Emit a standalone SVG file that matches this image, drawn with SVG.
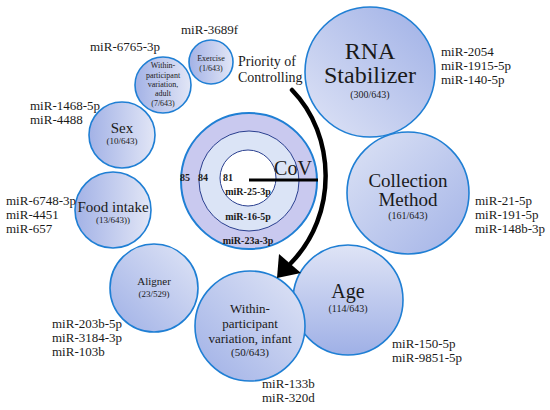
<svg xmlns="http://www.w3.org/2000/svg" width="550" height="410" viewBox="0 0 550 410" font-family="'Liberation Serif', 'DejaVu Serif', serif">
<defs>
<linearGradient id="gLR" x1="0" y1="0" x2="1" y2="0"><stop offset="0" stop-color="#a3b2e6"/><stop offset="1" stop-color="#e2e6f6"/></linearGradient>
<linearGradient id="gTB" x1="0" y1="0" x2="0" y2="1"><stop offset="0" stop-color="#dfe4f6"/><stop offset="1" stop-color="#9fb0e6"/></linearGradient>
<linearGradient id="gTRBL" x1="1" y1="0" x2="0" y2="1"><stop offset="0" stop-color="#e0e5f6"/><stop offset="1" stop-color="#9fb0e6"/></linearGradient>
<linearGradient id="gTLBR" x1="0" y1="0" x2="1" y2="1"><stop offset="0" stop-color="#dde3f5"/><stop offset="1" stop-color="#a3b3e7"/></linearGradient>
<linearGradient id="gBLTR" x1="0" y1="1" x2="1" y2="0"><stop offset="0" stop-color="#dfe4f6"/><stop offset="1" stop-color="#9fb0e6"/></linearGradient>
</defs>
<style>
text{font-family:'Liberation Serif','DejaVu Serif',serif;fill:#1a1a1a}
.c{stroke:#1f7fd4;stroke-width:1.6}
.m{font-size:13px}
.mid{text-anchor:middle}
.b{font-weight:bold;font-size:10px}
</style>
<rect width="550" height="410" fill="#fff"/>

<g id="cov">
<circle cx="249" cy="181" r="68" fill="#c9c9ef" stroke="#1f7fd4" stroke-width="2"/>
<circle cx="249" cy="181" r="50" fill="#dbe4f6" stroke="#2a3f8f" stroke-width="1"/>
<circle cx="248" cy="178" r="28" fill="#ffffff" stroke="#2a3f8f" stroke-width="1"/>
<line x1="249" y1="180" x2="318" y2="180" stroke="#000" stroke-width="3"/>
<text x="293" y="175" font-size="20" class="mid">CoV</text>
<text x="180" y="181" class="b">85</text>
<text x="198" y="181" class="b">84</text>
<text x="223" y="181" class="b">81</text>
<text x="248" y="195" class="b mid">miR-25-3p</text>
<text x="248" y="220" class="b mid">miR-16-5p</text>
<text x="248" y="244" class="b mid">miR-23a-3p</text>
</g>

<g id="exercise">
<circle class="c" cx="211" cy="62" r="22" fill="url(#gLR)"/>
<text x="211" y="61" font-size="8" class="mid">Exercise</text>
<text x="211" y="71" font-size="8" class="mid">(1/643)</text>
<text x="181" y="34" class="m">miR-3689f</text>
</g>

<g id="adult">
<circle class="c" cx="163" cy="85" r="28" fill="url(#gLR)"/>
<text x="163" y="68" font-size="8" class="mid">Within-</text>
<text x="163" y="78" font-size="8" class="mid">participant</text>
<text x="163" y="87" font-size="8" class="mid">variation,</text>
<text x="163" y="96" font-size="8" class="mid">adult</text>
<text x="163" y="106" font-size="8" class="mid">(7/643)</text>
<text x="90" y="51" class="m">miR-6765-3p</text>
</g>

<g id="priority">
<text x="238" y="66" font-size="14">Priority of</text>
<text x="238" y="82" font-size="14">Controlling</text>
</g>

<g id="rna">
<circle class="c" cx="370" cy="72" r="65" fill="url(#gBLTR)"/>
<text x="370" y="59" font-size="24" class="mid">RNA</text>
<text x="370" y="83" font-size="24" class="mid">Stabilizer</text>
<text x="370" y="98" font-size="10" class="mid">(300/643)</text>
<text x="441" y="56" class="m">miR-2054</text>
<text x="441" y="70" class="m">miR-1915-5p</text>
<text x="441" y="84" class="m">miR-140-5p</text>
</g>

<g id="collection">
<circle class="c" cx="408" cy="193" r="61" fill="url(#gTLBR)"/>
<text x="408" y="187" font-size="19" class="mid">Collection</text>
<text x="408" y="206" font-size="19" class="mid">Method</text>
<text x="408" y="219" font-size="10" class="mid">(161/643)</text>
<text x="475" y="205" class="m">miR-21-5p</text>
<text x="475" y="219" class="m">miR-191-5p</text>
<text x="475" y="233" class="m">miR-148b-3p</text>
</g>

<g id="age">
<circle class="c" cx="348" cy="300" r="55" fill="url(#gTB)"/>
<text x="348" y="298" font-size="20" class="mid">Age</text>
<text x="348" y="312" font-size="10" class="mid">(114/643)</text>
<text x="392" y="348" class="m">miR-150-5p</text>
<text x="392" y="362" class="m">miR-9851-5p</text>
</g>

<g id="infant">
<circle class="c" cx="250" cy="326" r="55" fill="url(#gTRBL)"/>
<text x="250" y="313" font-size="13" class="mid">Within-</text>
<text x="250" y="328" font-size="13" class="mid">participant</text>
<text x="250" y="343" font-size="13" class="mid">variation, infant</text>
<text x="250" y="356" font-size="11" class="mid">(50/643)</text>
<text x="262" y="388" class="m">miR-133b</text>
<text x="262" y="402" class="m">miR-320d</text>
</g>

<g id="aligner">
<circle class="c" cx="154" cy="288" r="44" fill="url(#gTRBL)"/>
<text x="154" y="285" font-size="11" class="mid">Aligner</text>
<text x="154" y="297" font-size="9" class="mid">(23/529)</text>
<text x="52" y="328" class="m">miR-203b-5p</text>
<text x="52" y="342" class="m">miR-3184-3p</text>
<text x="52" y="356" class="m">miR-103b</text>
</g>

<g id="food">
<circle class="c" cx="113" cy="210" r="38" fill="url(#gLR)"/>
<text x="113" y="212" font-size="15" class="mid">Food intake</text>
<text x="113" y="223" font-size="9" class="mid">(13/643))</text>
<text x="6" y="205" class="m">miR-6748-3p</text>
<text x="6" y="219" class="m">miR-4451</text>
<text x="6" y="233" class="m">miR-657</text>
</g>

<g id="sex">
<circle class="c" cx="122" cy="135" r="33" fill="url(#gLR)"/>
<text x="122" y="133" font-size="15" class="mid">Sex</text>
<text x="122" y="144" font-size="9" class="mid">(10/643)</text>
<text x="30" y="110" class="m">miR-1468-5p</text>
<text x="30" y="124" class="m">miR-4488</text>
</g>

<g id="connectors">
<path d="M292,90 C336,135 338,215 291,263" fill="none" stroke="#000" stroke-width="4.5" stroke-linecap="round"/>
<polygon points="277,278 279,254 301,273" fill="#000"/>
</g>
</svg>
